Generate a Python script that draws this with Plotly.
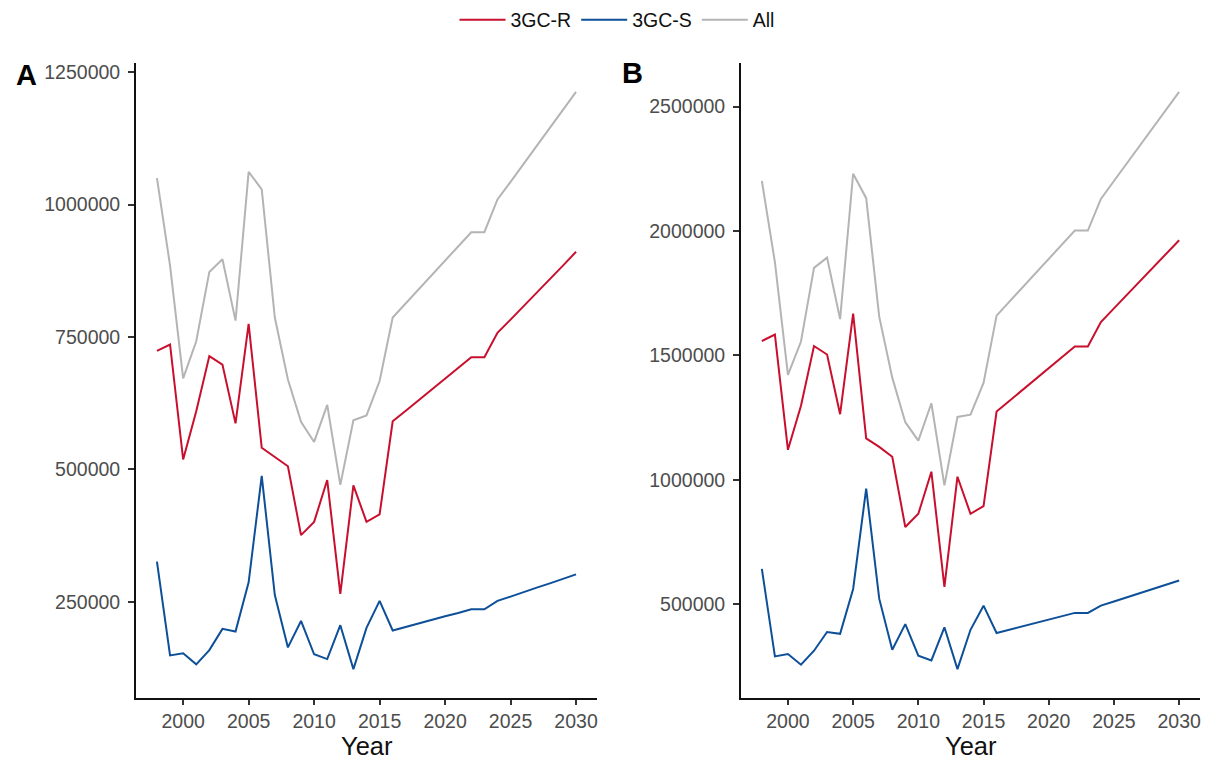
import plotly.graph_objects as go

years = list(range(1998, 2031))

# Panel A
r_a = [724000, 736000, 519000, 610000, 714000, 698000, 587000, 775000, 541000, 524000,
       506000, 376000, 401000, 480000, 265000, 470000, 401000, 415000, 591000, 611000,
       631000, 651000, 672000, 692000, 712000, 712000, 758000, 783000, 808000, 834000,
       859000, 885000, 911000]
s_a = [326000, 149000, 153000, 132000, 159000, 199000, 194000, 287000, 488000, 263000,
       164000, 214000, 151000, 142000, 206000, 123000, 201000, 252000, 196000, 203000,
       209000, 216000, 223000, 229000, 236000, 236000, 252000, 260000, 269000, 277000,
       285000, 294000, 302000]
all_a = [1050000, 885000, 672000, 742000, 873000, 897000, 781000, 1062000, 1029000, 787000,
         670000, 590000, 552000, 622000, 471000, 593000, 602000, 667000, 787000, 814000,
         841000, 867000, 894000, 921000, 948000, 948000, 1010000, 1043000, 1077000, 1111000,
         1144000, 1179000, 1213000]

# Panel B
r_b = [1558000, 1584000, 1121000, 1298000, 1538000, 1504000, 1264000, 1668000, 1167000, 1133000,
       1093000, 811000, 864000, 1033000, 570000, 1013000, 864000, 895000, 1275000, 1318000,
       1362000, 1405000, 1449000, 1492000, 1536000, 1536000, 1634000, 1689000, 1744000, 1798000,
       1853000, 1908000, 1963000]
s_b = [643000, 291000, 301000, 258000, 314000, 389000, 382000, 562000, 965000, 523000,
       318000, 421000, 294000, 275000, 408000, 240000, 398000, 495000, 385000, 399000,
       412000, 426000, 439000, 452000, 466000, 466000, 495000, 512000, 529000, 545000,
       562000, 579000, 596000]
all_b = [2201000, 1875000, 1422000, 1556000, 1852000, 1893000, 1646000, 2230000, 2132000, 1656000,
         1411000, 1232000, 1158000, 1308000, 978000, 1253000, 1262000, 1390000, 1660000, 1717000,
         1774000, 1831000, 1888000, 1944000, 2002000, 2002000, 2129000, 2201000, 2273000, 2343000,
         2415000, 2487000, 2559000]

series_names = ["3GC-R", "3GC-S", "All"]
colors = {"3GC-R": "#C8102E", "3GC-S": "#0D4F98", "All": "#B4B4B4"}
x_ticks = [2000, 2005, 2010, 2015, 2020, 2025, 2030]
y_ticks_a = [250000, 500000, 750000, 1000000, 1250000]
y_ticks_b = [500000, 1000000, 1500000, 2000000, 2500000]
x_title = "Year"
panel_labels = ["A", "B"]

FONT = "Liberation Sans, Arial, sans-serif"

# page has an 8px body margin; figure sized so it fills the visible window
OFF = 8
W, H = 1220 - 2 * OFF, 761 - OFF


def px(x):
    return (x - OFF) / W


def py(y):
    return 1 - (y - OFF) / H


fig = go.Figure()

panels = [
    ("x", "y", {"3GC-R": r_a, "3GC-S": s_a, "All": all_a}, True),
    ("x2", "y2", {"3GC-R": r_b, "3GC-S": s_b, "All": all_b}, False),
]
for xa, ya, data, show in panels:
    for name in series_names:
        fig.add_trace(go.Scatter(
            x=years, y=data[name], mode="lines", name=name,
            line=dict(color=colors[name], width=2),
            legendgroup=name, showlegend=show, xaxis=xa, yaxis=ya,
        ))


def expand(vals, f=0.05):
    lo, hi = min(vals), max(vals)
    d = (hi - lo) * f
    return [lo - d, hi + d]


xr = expand(years)
yr_a = expand(r_a + s_a + all_a)
yr_b = expand(r_b + s_b + all_b)

common_x = dict(
    range=xr, tickmode="array", tickvals=x_ticks, ticks="outside", ticklen=5,
    tickwidth=1.5, tickcolor="#333333", showline=True, linecolor="#111111",
    linewidth=1.8, showgrid=False, zeroline=False, automargin=False,
    tickfont=dict(family=FONT, size=19.5, color="#4D4D4D"), ticklabelstandoff=0,
)
common_y = dict(
    ticks="outside", ticklen=6, tickwidth=1.5, tickcolor="#333333", showline=True,
    linecolor="#111111", linewidth=1.8, showgrid=False, zeroline=False, automargin=False,
    tickformat="d", tickmode="array", ticklabelstandoff=4,
    tickfont=dict(family=FONT, size=19.5, color="#4D4D4D"),
)

ydom = [py(698), py(63)]
xdom_a = [px(136), px(597)]
xdom_b = [px(741), px(1200)]

annotations = []
for dom in (xdom_a, xdom_b):
    annotations.append(dict(
        text=x_title, x=(dom[0] + dom[1]) / 2, y=py(746), xref="paper", yref="paper",
        showarrow=False, font=dict(family=FONT, size=25.5, color="#111111"),
        xanchor="center", yanchor="middle"))
for lab, (lx, ly) in zip(panel_labels, [(26, 75), (632, 73)]):
    annotations.append(dict(
        text="<b>%s</b>" % lab, x=px(lx), y=py(ly), xref="paper", yref="paper",
        showarrow=False, font=dict(family=FONT, size=29, color="black"),
        xanchor="center", yanchor="middle"))

fig.update_layout(
    width=W, height=H, autosize=False,
    margin=dict(l=0, r=0, t=0, b=0, autoexpand=False),
    paper_bgcolor="white", plot_bgcolor="white",
    font=dict(family=FONT),
    xaxis=dict(common_x, domain=xdom_a, anchor="y"),
    yaxis=dict(common_y, domain=ydom, range=yr_a, tickvals=y_ticks_a, anchor="x"),
    xaxis2=dict(common_x, domain=xdom_b, anchor="y2"),
    yaxis2=dict(common_y, domain=ydom, range=yr_b, tickvals=y_ticks_b, anchor="x2"),
    legend=dict(
        orientation="h", x=px(617), xanchor="center", y=py(20), yanchor="middle",
        font=dict(family=FONT, size=19.5, color="#111111"), bgcolor="rgba(0,0,0,0)",
        itemwidth=46,
    ),
    annotations=annotations,
)

fig.write_html("out.html")
